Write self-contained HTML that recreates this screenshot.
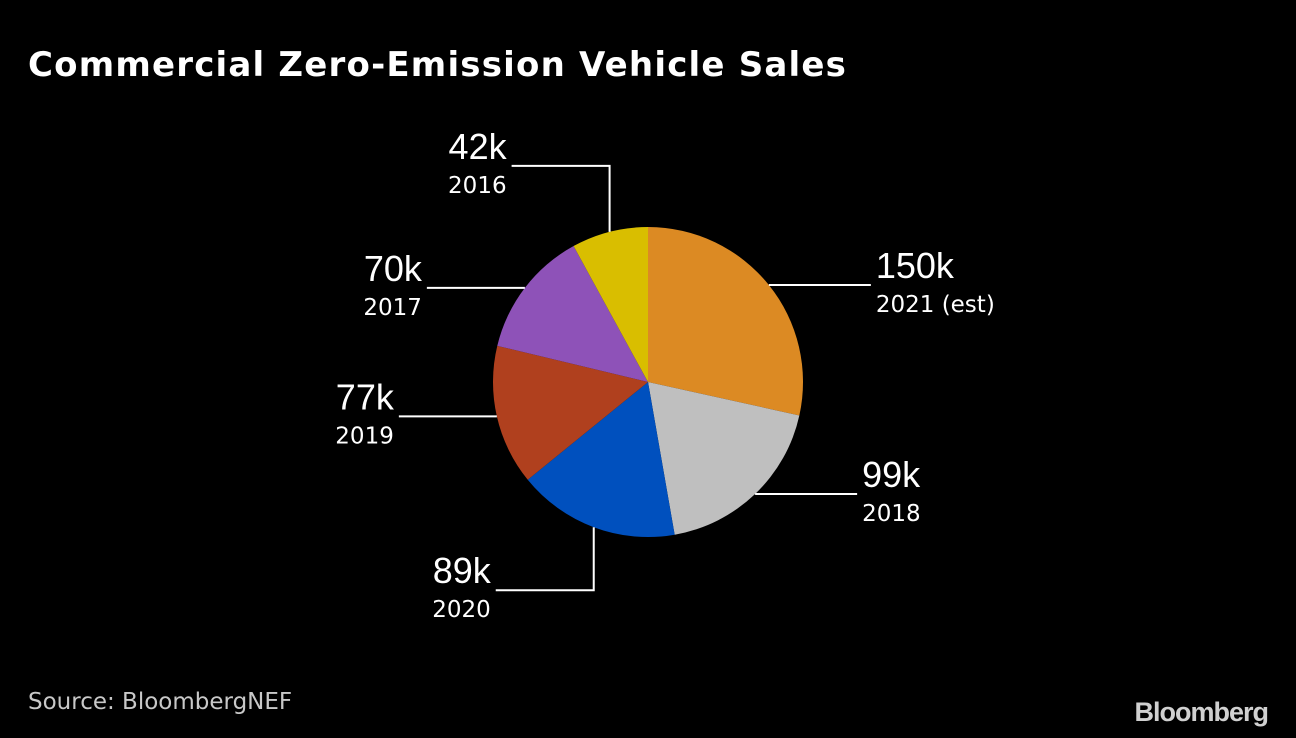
<!DOCTYPE html>
<html><head><meta charset="utf-8"><style>
html,body{margin:0;padding:0;background:#000;}
svg{display:block;font-family:"Liberation Sans",sans-serif;}
</style></head><body>
<svg id="chart" width="1296" height="738" viewBox="0 0 1296 738">
<text x="28" y="76" fill="#fff" font-size="34" font-weight="bold" font-family="DejaVu Sans, sans-serif" letter-spacing="1.2">Commercial Zero-Emission Vehicle Sales</text>
<g id="slices"></g>
<g id="labels"></g>
<text x="28" y="709" fill="#c8c8c8" font-size="23" font-family="DejaVu Sans, sans-serif">Source: BloombergNEF</text>
<text x="1268" y="721" fill="#d0d0d0" font-size="27" font-weight="bold" text-anchor="end" letter-spacing="-1">Bloomberg</text>
</svg>
<script>
const categories = ["2021 (est)", "2018", "2020", "2019", "2017", "2016"];
const values = [150, 99, 89, 77, 70, 42];
const valueLabels = ["150k", "99k", "89k", "77k", "70k", "42k"];
const colors = ["#DC8A23", "#BFBFBF", "#0050BE", "#B0401E", "#8E52B8", "#D9BE00"];

const NS = "http://www.w3.org/2000/svg";
const cx = 648, cy = 382, r = 155;
const total = values.reduce((a, b) => a + b, 0);
function pt(angle, rad) { return [cx + rad * Math.sin(angle), cy - rad * Math.cos(angle)]; }
const sg = document.getElementById("slices");
const lg = document.getElementById("labels");
let a0 = 0;
values.forEach((v, i) => {
  const a1 = a0 + v / total * Math.PI * 2;
  const p0 = pt(a0, r), p1 = pt(a1, r);
  const large = (a1 - a0) > Math.PI ? 1 : 0;
  const path = document.createElementNS(NS, "path");
  path.setAttribute("d", `M${cx},${cy} L${p0[0]},${p0[1]} A${r},${r} 0 ${large} 1 ${p1[0]},${p1[1]} Z`);
  path.setAttribute("fill", colors[i]);
  
  
  sg.appendChild(path);

  const mid = (a0 + a1) / 2;
  const right = Math.sin(mid) >= 0;
  const edge = pt(mid, r);
  const g = document.createElementNS(NS, "g");
  
  
  let pts, tx, ty, anchor;
  const vertical = Math.abs(Math.cos(mid)) > 0.9;
  if (vertical) {
    const ly = Math.cos(mid) > 0 ? edge[1] - 66 : edge[1] + 63;
    const lx2 = right ? edge[0] + 98 : edge[0] - 98;
    pts = [[edge[0], edge[1]], [edge[0], ly], [lx2, ly]];
    anchor = right ? "start" : "end";
    tx = right ? lx2 + 5 : lx2 - 5; ty = ly;
  } else {
    const lx2 = right ? edge[0] + 102 : edge[0] - 98;
    pts = [[edge[0], edge[1]], [lx2, edge[1]]];
    anchor = right ? "start" : "end";
    tx = right ? lx2 + 5 : lx2 - 5; ty = edge[1];
  }
  const pl = document.createElementNS(NS, "polyline");
  pl.setAttribute("points", pts.map(p => p.join(",")).join(" "));
  pl.setAttribute("fill", "none");
  pl.setAttribute("stroke", "#fff");
  pl.setAttribute("stroke-width", "2");
  
  
  g.appendChild(pl);
  const t1 = document.createElementNS(NS, "text");
  t1.setAttribute("x", tx); t1.setAttribute("y", ty - 7);
  t1.setAttribute("fill", "#fff"); t1.setAttribute("font-size", "36");
  t1.setAttribute("text-anchor", anchor);
  t1.textContent = valueLabels[i];
  
  
  g.appendChild(t1);
  const t2 = document.createElementNS(NS, "text");
  t2.setAttribute("x", tx); t2.setAttribute("y", ty + 27);
  t2.setAttribute("fill", "#fff"); t2.setAttribute("font-size", "23");
  t2.setAttribute("font-family", "DejaVu Sans, sans-serif");
  t2.setAttribute("text-anchor", anchor);
  t2.textContent = categories[i];
  
  
  g.appendChild(t2);
  lg.appendChild(g);
  a0 = a1;
});
</script>
</body></html>
